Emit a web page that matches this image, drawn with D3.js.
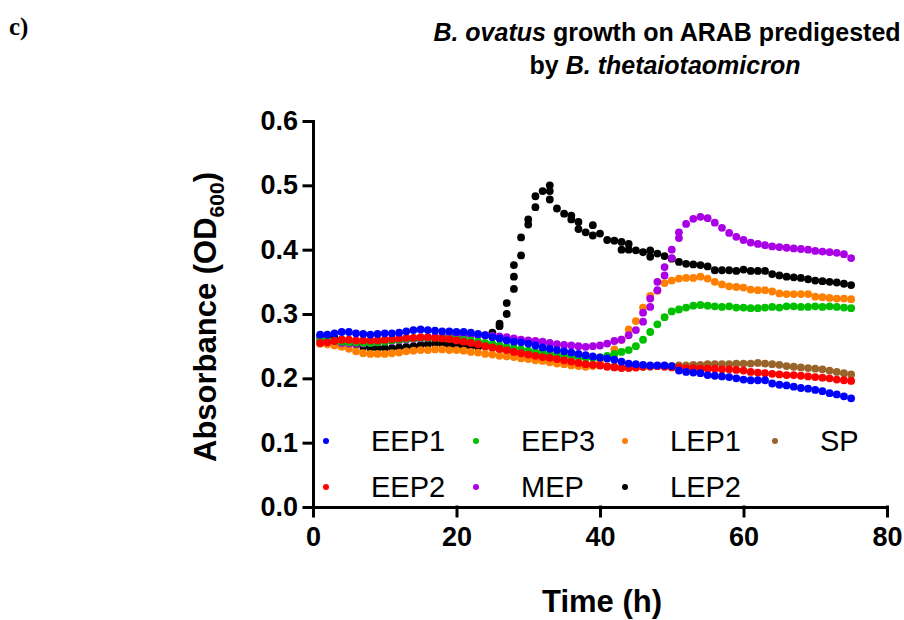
<!DOCTYPE html>
<html>
<script src="https://d3js.org/d3.v7.min.js"></script>
<body style="margin:0;background:#fff">
<div id="chart"></div>

<script>
    // sampling times (h)
    var hours = [1,2,3,4,5,6,7,8,9,10,11,12,13,14,15,16,17,18,19,20,
        21,22,23,24,25,26,27,28,29,30,31,32,33,34,35,36,37,38,39,40,
        41,42,43,44,45,46,47,48,49,50,51,52,53,54,55,56,57,58,59,60,
        61,62,63,64,65,66,67,68,69,70,71,72,73,74,75];

    var EEP1 = [0.268,0.268,0.270,0.272,0.272,0.270,0.269,0.268,0.269,0.270,
        0.270,0.271,0.273,0.275,0.276,0.275,0.274,0.273,0.273,0.272,
        0.272,0.271,0.269,0.267,0.264,0.262,0.259,0.257,0.256,0.254,
        0.251,0.248,0.246,0.244,0.242,0.240,0.238,0.236,0.234,0.232,
        0.231,0.229,0.226,0.223,0.222,0.221,0.220,0.220,0.220,0.219,
        0.212,0.210,0.209,0.208,0.205,0.204,0.203,0.202,0.200,0.198,
        0.197,0.197,0.197,0.192,0.190,0.189,0.187,0.185,0.184,0.182,
        0.180,0.177,0.175,0.172,0.169];

    var EEP2 = [0.255,0.256,0.258,0.260,0.260,0.259,0.259,0.259,0.259,0.260,
        0.261,0.262,0.263,0.263,0.264,0.264,0.263,0.262,0.261,0.259,
        0.257,0.255,0.253,0.250,0.248,0.246,0.244,0.241,0.239,0.237,
        0.235,0.233,0.232,0.230,0.228,0.226,0.224,0.222,0.221,0.220,
        0.218,0.217,0.216,0.216,0.217,0.218,0.219,0.219,0.218,0.217,
        0.217,0.216,0.216,0.215,0.215,0.215,0.214,0.214,0.213,0.212,
        0.210,0.209,0.208,0.207,0.206,0.205,0.205,0.204,0.203,0.202,
        0.201,0.200,0.198,0.197,0.196];

    var EEP3 = [0.259,0.259,0.258,0.257,0.256,0.256,0.255,0.255,0.256,0.257,
        0.259,0.260,0.261,0.262,0.263,0.263,0.263,0.263,0.262,0.261,
        0.260,0.259,0.257,0.255,0.253,0.251,0.249,0.247,0.245,0.243,
        0.241,0.240,0.238,0.236,0.235,0.234,0.233,0.232,0.232,0.233,
        0.235,0.238,0.241,0.244,0.250,0.260,0.272,0.284,0.295,0.304,
        0.307,0.310,0.313,0.314,0.313,0.312,0.311,0.312,0.310,0.310,
        0.309,0.309,0.310,0.311,0.310,0.312,0.312,0.311,0.311,0.312,
        0.311,0.312,0.311,0.310,0.309];

    var MEP = [0.262,0.260,0.258,0.255,0.254,0.254,0.254,0.255,0.256,0.257,
        0.258,0.259,0.260,0.261,0.262,0.263,0.264,0.265,0.266,0.267,
        0.267,0.267,0.267,0.267,0.266,0.265,0.264,0.262,0.260,0.259,
        0.258,0.257,0.255,0.253,0.252,0.251,0.250,0.249,0.250,0.251,
        0.254,0.258,0.260,0.267,0.275,0.288,0.311,0.337,0.360,0.387,
        0.418,0.440,0.448,0.451,0.449,0.442,0.434,0.426,0.420,0.415,
        0.411,0.409,0.407,0.405,0.404,0.403,0.402,0.401,0.400,0.398,
        0.397,0.396,0.395,0.393,0.387];

    var LEP1 = [0.254,0.253,0.251,0.249,0.246,0.242,0.239,0.238,0.238,0.238,
        0.239,0.240,0.242,0.243,0.244,0.244,0.245,0.245,0.244,0.244,
        0.243,0.241,0.240,0.238,0.237,0.235,0.234,0.233,0.231,0.230,
        0.228,0.227,0.225,0.223,0.222,0.220,0.219,0.218,0.219,0.225,
        0.232,0.245,0.260,0.276,0.289,0.310,0.328,0.336,0.348,0.352,
        0.355,0.356,0.356,0.358,0.355,0.350,0.346,0.343,0.342,0.341,
        0.338,0.337,0.337,0.335,0.332,0.331,0.331,0.331,0.331,0.327,
        0.326,0.325,0.324,0.324,0.323];

    var LEP2 = [0.266,0.264,0.262,0.260,0.257,0.253,0.249,0.247,0.247,0.247,
        0.247,0.248,0.249,0.250,0.252,0.253,0.254,0.253,0.252,0.251,
        0.250,0.249,0.249,0.252,0.271,0.285,0.300,0.339,0.391,0.439,
        0.466,0.491,0.500,0.464,0.456,0.453,0.443,0.427,0.438,0.425,
        0.415,0.414,0.412,0.409,0.399,0.396,0.399,0.394,0.390,0.386,
        0.381,0.378,0.377,0.376,0.374,0.368,0.368,0.368,0.367,0.369,
        0.367,0.367,0.367,0.362,0.360,0.358,0.357,0.356,0.354,0.352,
        0.351,0.350,0.349,0.347,0.345];

    var SP = [0.254,0.255,0.256,0.257,0.257,0.257,0.257,0.257,0.258,0.259,
        0.260,0.261,0.261,0.262,0.262,0.262,0.261,0.260,0.259,0.257,
        0.255,0.253,0.251,0.249,0.247,0.245,0.243,0.240,0.238,0.236,
        0.234,0.232,0.231,0.229,0.227,0.225,0.223,0.222,0.221,0.220,
        0.219,0.218,0.217,0.217,0.217,0.218,0.218,0.219,0.219,0.219,
        0.220,0.220,0.221,0.221,0.222,0.222,0.222,0.222,0.223,0.223,
        0.223,0.224,0.223,0.222,0.221,0.219,0.218,0.217,0.216,0.215,
        0.214,0.212,0.210,0.208,0.206];

    // extra replicate readings visible where the curves rise steeply
    var LEP2repHours = [26,27,28,28,29,30,31,33,33,36,37,39,43,44,47];
    var LEP2repValues = [0.281,0.317,0.358,0.376,0.419,0.447,0.483,0.491,0.478,0.447,0.432,0.422,0.400,0.400,0.389];
    var MEPrepHours = [46,47,48,49,50,51];
    var MEPrepValues = [0.302,0.324,0.350,0.373,0.400,0.427];

    var seriesNames = ["EEP1","EEP2","EEP3","MEP","LEP1","LEP2","SP"];
    var seriesColors = ["#0000ff","#ff0000","#00c000","#aa00e6","#ff8000","#000000","#99642a"];
    var seriesValues = [EEP1, EEP2, EEP3, MEP, LEP1, LEP2, SP];
    var extraPoints = {LEP2: [LEP2repHours, LEP2repValues], MEP: [MEPrepHours, MEPrepValues]};

    var xTicks = [0,20,40,60,80];
    var yTicks = [0,0.1,0.2,0.3,0.4,0.5,0.6];

    var width = 904, height = 620;
    var svg = d3.select("#chart").append("svg")
        .attr("width", width)
        .attr("height", height)
        .style("font-family", "'Liberation Sans', Arial, sans-serif");

    var x = d3.scaleLinear().domain([0, 80]).range([313, 887]);
    var y = d3.scaleLinear().domain([0, 0.6]).range([507, 121]);

    // panel letter + title
    svg.append("text").attr("x", 9).attr("y", 35)
        .style("font-family", "'Liberation Serif', 'Times New Roman', serif")
        .style("font-weight", "bold").style("font-size", "25px")
        .text("c)");

    var t1 = svg.append("text").attr("x", 667).attr("y", 41)
        .attr("text-anchor", "middle")
        .style("font-weight", "bold").style("font-size", "25px");
    t1.append("tspan").style("font-style", "italic").text("B. ovatus");
    t1.append("tspan").text(" growth on ARAB predigested");

    var t2 = svg.append("text").attr("x", 665).attr("y", 74)
        .attr("text-anchor", "middle")
        .style("font-weight", "bold").style("font-size", "25px");
    t2.append("tspan").text("by ");
    t2.append("tspan").style("font-style", "italic").text("B. thetaiotaomicron");

    // points, last data set at the bottom
    var g = svg.append("g");
    for (var i = seriesNames.length - 1; i >= 0; i--) {
        var name = seriesNames[i];
        var pts = hours.map(function (h, k) { return [h, seriesValues[i][k]]; });
        if (extraPoints[name]) {
            extraPoints[name][0].forEach(function (h, k) {
                pts.push([h, extraPoints[name][1][k]]);
            });
        }
        g.append("g").selectAll("circle")
            .data(pts)
            .join("circle")
            .attr("cx", function (d) { return x(d[0]); })
            .attr("cy", function (d) { return y(d[1]); })
            .attr("r", 3.9)
            .attr("fill", seriesColors[i]);
    }

    // axes
    var xAxis = svg.append("g")
        .attr("transform", "translate(0," + y(0) + ")")
        .call(d3.axisBottom(x).tickValues(xTicks).tickSize(9).tickSizeOuter(0).tickPadding(11));
    var yAxis = svg.append("g")
        .attr("transform", "translate(" + x(0) + ",0)")
        .call(d3.axisLeft(y).tickValues(yTicks).tickFormat(d3.format(".1f")).tickSize(9).tickSizeOuter(0).tickPadding(6));

    [xAxis, yAxis].forEach(function (a) {
        a.selectAll("path, line").attr("stroke", "#000").attr("stroke-width", 3).attr("stroke-linecap", "square");
        a.selectAll("text").attr("fill", "#000")
            .style("font-family", "'Liberation Sans', Arial, sans-serif")
            .style("font-weight", "bold").style("font-size", "27px");
    });

    // axis titles
    svg.append("text").attr("x", 602).attr("y", 612)
        .attr("text-anchor", "middle")
        .style("font-weight", "bold").style("font-size", "31px")
        .text("Time (h)");

    var yl = svg.append("text")
        .attr("transform", "translate(216,317) rotate(-90)")
        .attr("text-anchor", "middle")
        .style("font-weight", "bold").style("font-size", "31px");
    yl.append("tspan").text("Absorbance (OD");
    yl.append("tspan").attr("dy", 8).style("font-size", "21px").text("600");
    yl.append("tspan").attr("dy", -8).text(")");

    // legend, column by column
    var legendCols = [326, 476, 625, 775];
    var legendRows = [441, 487];
    var leg = svg.append("g");
    seriesNames.forEach(function (name, i) {
        var cx = legendCols[Math.floor(i / 2)], cy = legendRows[i % 2];
        leg.append("circle").attr("cx", cx).attr("cy", cy).attr("r", 3).attr("fill", seriesColors[i]);
        leg.append("text").attr("x", cx + 45).attr("y", cy).attr("dy", "0.36em")
            .style("font-size", "29px")
            .text(name);
    });
</script>

</body>
</html>
